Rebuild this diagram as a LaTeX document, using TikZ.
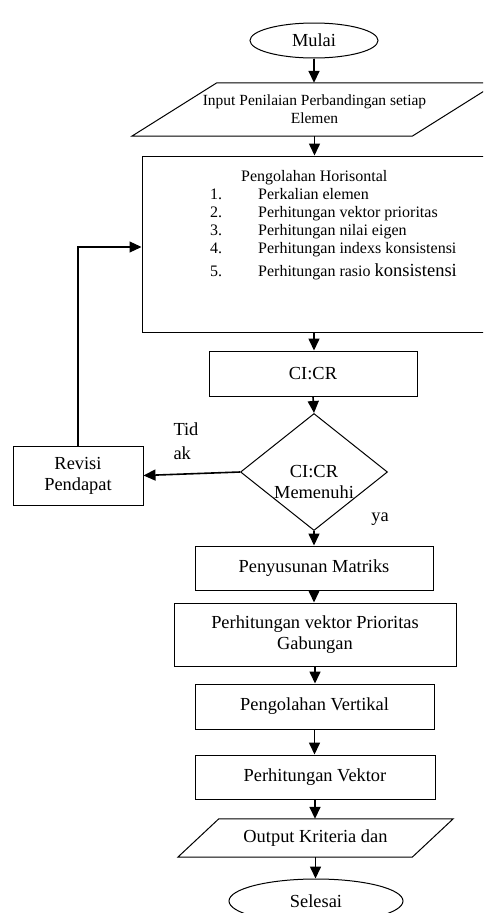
\documentclass[tikz,border=0pt]{standalone}
\usepackage{fontspec}
\setmainfont{Liberation Serif}
\usetikzlibrary{shapes.geometric,arrows.meta}

\begin{document}
\begin{tikzpicture}[x=1pt,y=-1pt,
    every node/.style={font=\fontsize{18.4}{21}\selectfont},
    terminal/.style={draw,ellipse,line width=1pt,inner sep=0pt},
    proses/.style={draw,rectangle,line width=1pt,align=center,inner sep=0pt},
    io/.style={rectangle,align=center,inner sep=0pt},
    keputusan/.style={draw,diamond,line width=1pt,inner sep=0pt},
    panah/.style={->,line width=1.6pt}]
  \tikzset{> = {Triangle[length=12pt,width=11pt]}}
  \clip (0,0) rectangle (483,913);
  \node[terminal,minimum width=128,minimum height=35] (mulai) at (314,40.5) {Mulai};
  \node[io,font=\fontsize{15.5}{18}\selectfont,minimum width=280,minimum height=53] (input) at (314.5,109.5)
    {Input Penilaian Perbandingan setiap\\Elemen};
  \draw[line width=1pt] ([xshift=-42.5]input.south west) -- ([xshift=42.5]input.north west)
    -- ([xshift=42.5]input.north east) -- ([xshift=-42.5]input.south east) -- cycle;
  % kotak pengolahan horisontal
  \node[proses,minimum width=344,minimum height=176] (horisontal) at (314,244) {};
  \node[anchor=north west,align=left,inner sep=0pt,font=\fontsize{16}{18}\selectfont] (daftar) at (210,170)
    {\hspace*{31pt}Pengolahan Horisontal\\
     \makebox[48pt][l]{1.}Perkalian elemen\\
     \makebox[48pt][l]{2.}Perhitungan vektor prioritas\\
     \makebox[48pt][l]{3.}Perhitungan nilai eigen\\
     \makebox[48pt][l]{4.}Perhitungan indexs konsistensi\\[5pt]
     \makebox[48pt][l]{5.}Perhitungan rasio {\fontsize{18.5}{21}\selectfont konsistensi}};
  \node[proses,minimum width=208,minimum height=45] (cicr) at (313,373.5) {CI:CR};
  \node[keputusan,minimum width=147,minimum height=117] (cek) at (314,472) {};
  \node[align=center] (cektext) at (314,482) {CI:CR\\Memenuhi};
  \node[proses,minimum width=130,minimum height=59] (revisi) at (78,475.5) {Revisi\\Pendapat};
  \node[anchor=west,align=left,font=\fontsize{18.4}{24}\selectfont] (tidak) at (170,441) {Tid\\ak};
  \node (ya) at (380,519) {ya};
  \node[proses,minimum width=238,minimum height=44] (matriks) at (314,568) {Penyusunan Matriks};
  \node[proses,minimum width=282,minimum height=63] (gabungan) at (315,634.5) {Perhitungan vektor Prioritas\\Gabungan};
  \node[proses,minimum width=239,minimum height=45] (vertikal) at (314.5,706.5) {Pengolahan Vertikal};
  \node[proses,minimum width=240,minimum height=44] (vektor) at (315,777) {Perhitungan Vektor};
  \node[io,minimum width=234,minimum height=38] (output) at (315.5,838) {Output Kriteria dan};
  \draw[line width=1pt] ([xshift=-20.5]output.south west) -- ([xshift=20.5]output.north west)
    -- ([xshift=20.5]output.north east) -- ([xshift=-20.5]output.south east) -- cycle;
  \node[terminal,minimum width=174,minimum height=44] (selesai) at (316,901) {Selesai};
  % panah
  \draw[panah] (mulai.south) -- (mulai.south |- input.north);
  \draw[panah] (input.south) -- (input.south |- horisontal.north);
  \draw[panah] (horisontal.south) -- (horisontal.south |- cicr.north);
  \draw[panah] (cicr.south) -- (cek.north);
  \draw[panah] (cek.west) -- (revisi.east);
  \draw[panah] (cek.south) -- (cek.south |- matriks.north);
  \draw[panah] (matriks.south) -- (matriks.south |- gabungan.north);
  \draw[panah] (gabungan.south) -- (gabungan.south |- vertikal.north);
  \draw[panah] (vertikal.south) -- (vertikal.south |- vektor.north);
  \draw[panah] (vektor.south) -- (vektor.south |- output.north);
  \draw[panah] (output.south) -- (output.south |- selesai.north);
  \draw[->,line width=1.2pt] (revisi.north) |- ([yshift=-3]horisontal.west);
\end{tikzpicture}
\end{document}
